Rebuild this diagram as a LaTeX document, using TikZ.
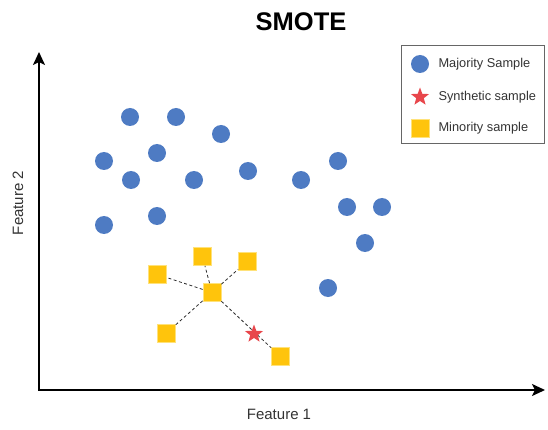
\documentclass[tikz,border=0pt]{standalone}
\usepackage{fontspec}
\setmainfont{Liberation Sans}
\usepackage{tikz}
\usetikzlibrary{shapes.geometric,arrows.meta}

\definecolor{majblue}{HTML}{4E7BC3}
\definecolor{minyellow}{HTML}{FFC40C}
\definecolor{minborder}{HTML}{FFE27A}
\definecolor{synred}{HTML}{E8464B}
\definecolor{textgray}{HTML}{333333}

\begin{document}
\begin{tikzpicture}[x=1pt, y=-1pt,
    majority/.style={circle, fill=majblue, inner sep=0pt, minimum size=18pt},
    minority/.style={rectangle, fill=minyellow, draw=minborder, line width=0.7pt, inner sep=0pt, minimum size=18pt},
    synthetic/.style={star, star points=5, star point ratio=2.4, fill=synred, inner sep=0pt, minimum size=19pt},
    link/.style={color=darkgray!70!black, line width=0.8pt, dash pattern=on 3pt off 2.5pt},
    axis/.style={line width=1.8pt, {Stealth[length=13pt, width=12pt, inset=3pt]}-{Stealth[length=13pt, width=12pt, inset=3pt]}},
    label/.style={font=\fontsize{15}{17}\selectfont, text=textgray},
    legendtext/.style={font=\fontsize{12.8}{15}\selectfont, text=textgray, anchor=west}]
    \useasboundingbox (0,0) rectangle (548,430);

    \node[font=\bfseries\fontsize{25.5}{28}\selectfont] (title) at (301,22) {SMOTE};

    % axes
    \coordinate (origin) at (39,390);
    \coordinate (ytip) at (39,52);
    \coordinate (xtip) at (545,390);
    \draw[axis] (ytip) -- (origin) -- (xtip);
    \node[label] (xlabel) at (279,414) {Feature 1};
    \node[label, rotate=90] (ylabel) at (18,203) {Feature 2};

    % majority samples
    \node[majority] (maj1) at (130,117) {};
    \node[majority] (maj2) at (176,117) {};
    \node[majority] (maj3) at (221,134) {};
    \node[majority] (maj4) at (104,161) {};
    \node[majority] (maj5) at (157,153) {};
    \node[majority] (maj6) at (131,180) {};
    \node[majority] (maj7) at (194,180) {};
    \node[majority] (maj8) at (248,171) {};
    \node[majority] (maj9) at (301,180) {};
    \node[majority] (maj10) at (338,161) {};
    \node[majority] (maj11) at (347,207) {};
    \node[majority] (maj12) at (382,207) {};
    \node[majority] (maj13) at (365,243) {};
    \node[majority] (maj14) at (104,225) {};
    \node[majority] (maj15) at (157,216) {};
    \node[majority] (maj16) at (328,288) {};

    % minority samples
    \node[minority] (min0) at (212,292.5) {};
    \node[minority] (min1) at (157.5,274.5) {};
    \node[minority] (min2) at (202.5,256.5) {};
    \node[minority] (min3) at (247.5,261) {};
    \node[minority] (min4) at (166.5,333) {};
    \node[minority] (min5) at (280.5,356.5) {};
        \draw [link] (min0) -- (min1);
        \draw [link] (min0) -- (min2);
        \draw [link] (min0) -- (min3);
        \draw [link] (min0) -- (min4);
        \draw [link] (min0) -- (min5);

    % synthetic sample
    \node[synthetic] (synth) at (254,334) {};

    % legend
    \node[draw=gray!80!black, line width=0.8pt, minimum width=143pt, minimum height=98pt] (legend) at (472.5,94) {};
    \node[majority] (legmaj) at (420,64) {};
    \node[legendtext] (legmajtext) at (435,64) {Majority Sample};
    \node[synthetic] (legsyn) at (420,97) {};
    \node[legendtext] (legsyntext) at (435,97) {Synthetic sample};
    \node[minority] (legmin) at (420,128) {};
    \node[legendtext] (legmintext) at (435,128) {Minority sample};

\end{tikzpicture}
\end{document}
